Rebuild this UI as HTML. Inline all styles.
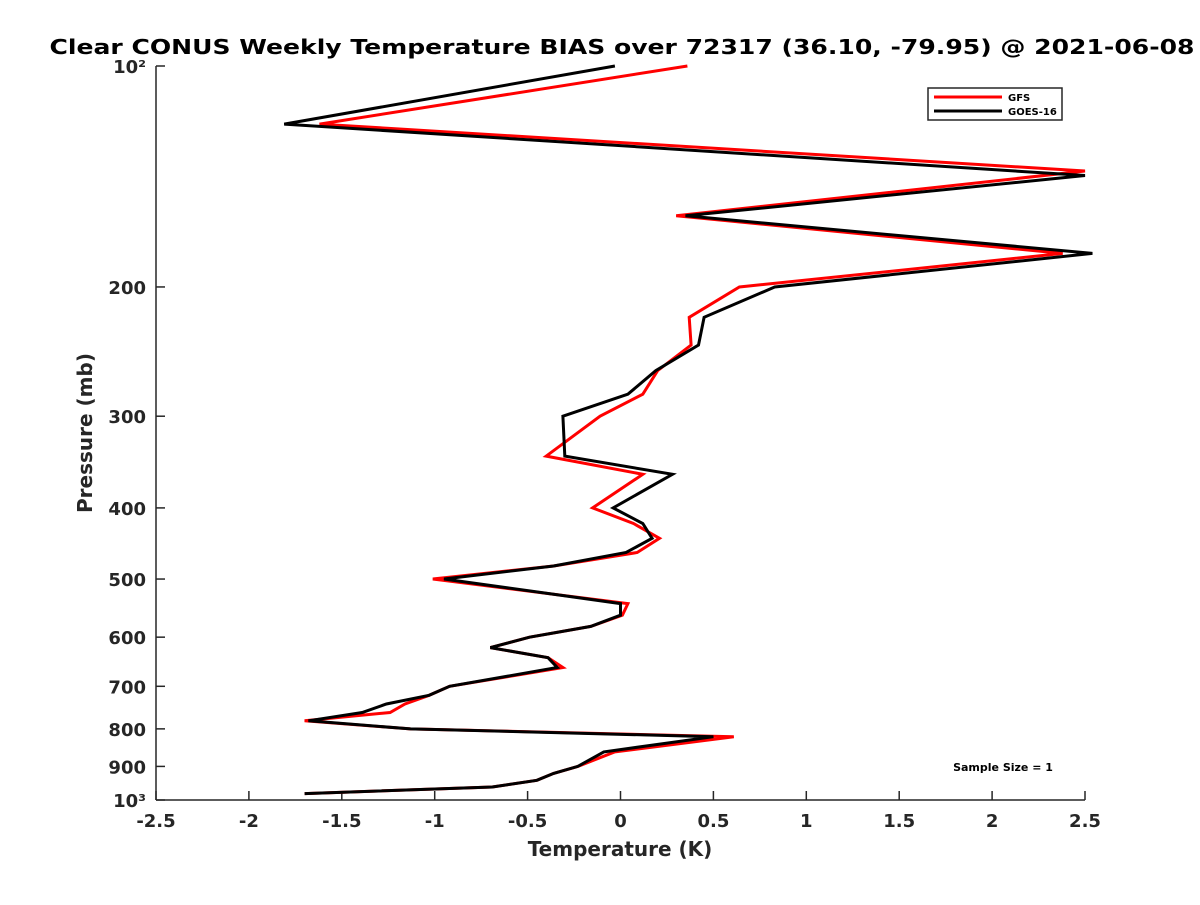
<!DOCTYPE html>
<html><head><meta charset="utf-8"><style>
body{margin:0;background:#fff}
svg{font-family:"DejaVu Sans","Liberation Sans",sans-serif;font-weight:bold}
</style></head><body>
<svg id="chart" width="1200" height="900" viewBox="0 0 1200 900" xmlns="http://www.w3.org/2000/svg">
<rect width="1200" height="900" fill="#fff"/>
<text x="622" y="54" font-size="20" text-anchor="middle" textLength="1145" lengthAdjust="spacingAndGlyphs" fill="#000">Clear CONUS Weekly Temperature BIAS over 72317 (36.10, -79.95) @ 2021-06-08</text>
<g id="axes"></g>
<g id="series"></g>
<text x="620" y="856" font-size="20" text-anchor="middle" fill="#262626">Temperature (K)</text>
<text transform="translate(92,433) rotate(-90)" font-size="20" text-anchor="middle" fill="#262626">Pressure (mb)</text>
<g>
<rect x="928" y="88" width="134" height="32" fill="#fff" stroke="#262626" stroke-width="1.5"/>
<line x1="934" y1="97" x2="1002" y2="97" stroke="#f00" stroke-width="3"/>
<text x="1008" y="101" font-size="10" fill="#000">GFS</text>
<line x1="934" y1="111" x2="1002" y2="111" stroke="#000" stroke-width="3"/>
<text x="1008" y="115" font-size="10" fill="#000">GOES-16</text>
</g>
<text x="1003" y="771" font-size="11" text-anchor="middle" fill="#000">Sample Size = 1</text>
</svg>
<script>
const gfsP=[100,120,139,160,180,200,220,240,260,280,300,340,360,400,420,440,460,480,500,540,560,580,600,620,640,660,700,720,740,760,780,800,820,860,900,920,940,960,980];
const gfsT=[0.36,-1.62,2.50,0.30,2.38,0.64,0.37,0.38,0.20,0.12,-0.11,-0.40,0.12,-0.15,0.07,0.21,0.09,-0.36,-1.01,0.04,0.01,-0.16,-0.49,-0.70,-0.39,-0.31,-0.92,-1.03,-1.16,-1.24,-1.70,-1.13,0.61,-0.03,-0.23,-0.36,-0.45,-0.69,-1.70];
const goesP=[100,120,141,160,180,200,220,240,260,280,300,340,360,400,420,440,460,480,500,540,560,580,600,620,640,660,700,720,740,760,780,800,820,860,900,920,940,960,980];
const goesT=[-0.03,-1.81,2.50,0.35,2.54,0.83,0.45,0.42,0.19,0.04,-0.31,-0.30,0.28,-0.04,0.12,0.17,0.03,-0.36,-0.95,0.00,0.00,-0.16,-0.49,-0.70,-0.39,-0.34,-0.92,-1.03,-1.26,-1.39,-1.68,-1.13,0.50,-0.09,-0.23,-0.36,-0.45,-0.69,-1.70];
const xTicks=[-2.5,-2,-1.5,-1,-0.5,0,0.5,1,1.5,2,2.5];
const xTickLabels=["-2.5","-2","-1.5","-1","-0.5","0","0.5","1","1.5","2","2.5"];
const yTicks=[100,200,300,400,500,600,700,800,900,1000];
const yTickLabels=["10²","200","300","400","500","600","700","800","900","10³"];

const X0=156,X1=1085,Y0=66,Y1=800;
function xs(v){return X0+(v+2.5)/5*(X1-X0);}
function ys(p){return Y0+Math.log10(p/100)*(Y1-Y0);}
const NS="http://www.w3.org/2000/svg";
function mk(tag,attrs,parent){const e=document.createElementNS(NS,tag);for(const k in attrs)e.setAttribute(k,attrs[k]);parent.appendChild(e);return e;}
const ax=document.getElementById('axes');
const xa=mk('line',{x1:X0,y1:Y1,x2:X1,y2:Y1,stroke:'#262626','stroke-width':1.5},ax);


const ya=mk('line',{x1:X0,y1:Y0,x2:X0,y2:Y1,stroke:'#262626','stroke-width':1.5},ax);


xTicks.forEach((v,i)=>{
  const x=xs(v);
  const t=mk('line',{x1:x,y1:Y1,x2:x,y2:Y1-9,stroke:'#262626','stroke-width':1.5},ax);
  
  
  const l=mk('text',{x:x,y:Y1+27,'font-size':18,'text-anchor':'middle',fill:'#262626'},ax);
  l.textContent=xTickLabels[i];
  
  
});
yTicks.forEach((p,i)=>{
  const y=ys(p);
  const t=mk('line',{x1:X0,y1:y,x2:X0+9,y2:y,stroke:'#262626','stroke-width':1.5},ax);
  
  
  const l=mk('text',{x:X0-10,y:y+7,'font-size':18,'text-anchor':'end',fill:'#262626'},ax);
  l.textContent=yTickLabels[i];
  
  
});
const sg=document.getElementById('series');
function drawLine(P,T,color,name){
  const pts=P.map((p,i)=>xs(T[i]).toFixed(1)+','+ys(p).toFixed(1)).join(' ');
  const pl=mk('polyline',{points:pts,fill:'none',stroke:color,'stroke-width':3,'stroke-linejoin':'miter'},sg);
  
  
}
drawLine(gfsP,gfsT,'#f00','gfs-line');
drawLine(goesP,goesT,'#000','goes16-line');
</script>
</body></html>
